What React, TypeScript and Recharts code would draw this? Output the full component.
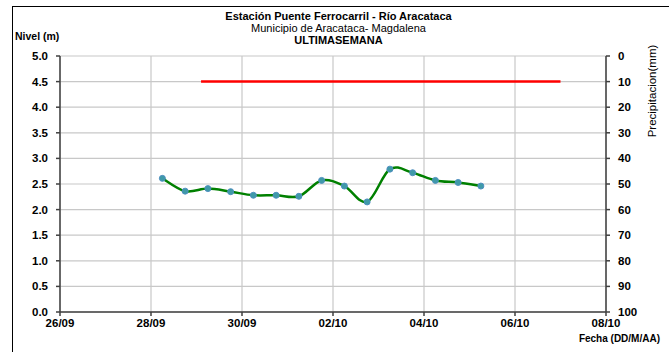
import { ComposedChart, Line, XAxis, YAxis, CartesianGrid } from 'recharts';

// days since 26/09 (readings every 12 h)
const nivelDias = [2.25, 2.75, 3.25, 3.75, 4.25, 4.75, 5.25, 5.75, 6.25, 6.75, 7.25, 7.75, 8.25, 8.75, 9.25];
const nivelM = [2.61, 2.36, 2.41, 2.35, 2.28, 2.28, 2.26, 2.57, 2.46, 2.15, 2.79, 2.72, 2.57, 2.53, 2.46];

// alert level line
const alertaDias = [3.1, 11];
const alertaM = [4.5, 4.5];

const fechaTicks = [0, 2, 4, 6, 8, 10, 12];
const fechaLabels = ['26/09', '28/09', '30/09', '02/10', '04/10', '06/10', '08/10'];
const nivelTicks = [0, 0.5, 1, 1.5, 2, 2.5, 3, 3.5, 4, 4.5, 5];
const precipTicks = [0, 10, 20, 30, 40, 50, 60, 70, 80, 90, 100];

const nivelData = nivelDias.map((d, i) => ({ dia: d, nivel: nivelM[i] }));
const alertaData = alertaDias.map((d, i) => ({ dia: d, alerta: alertaM[i] }));

// smoothing similar to Excel's (Catmull-Rom as cubic Bezier)
const smooth = (context: any) => {
  let pts: number[][] = [];
  return {
    areaStart() {},
    areaEnd() {},
    lineStart() {
      pts = [];
    },
    point(x: number, y: number) {
      pts.push([x, y]);
    },
    lineEnd() {
      if (!pts.length) return;
      context.moveTo(pts[0][0], pts[0][1]);
      for (let i = 0; i < pts.length - 1; i++) {
        const p0 = pts[i - 1] || pts[i];
        const p1 = pts[i];
        const p2 = pts[i + 1];
        const p3 = pts[i + 2] || p2;
        context.bezierCurveTo(
          p1[0] + (p2[0] - p0[0]) / 6, p1[1] + (p2[1] - p0[1]) / 6,
          p2[0] - (p3[0] - p1[0]) / 6, p2[1] - (p3[1] - p1[1]) / 6,
          p2[0], p2[1]
        );
      }
    },
  };
};

const font = 'Liberation Sans, Arial, sans-serif';
const tickStyle = { fontFamily: font, fontSize: 11.5, fontWeight: 'bold', fill: '#000' };

function App() {
  return (
    <div style={{ position: 'absolute', left: 0, top: 0, width: 669, height: 352, background: '#fff', fontFamily: font, overflow: 'hidden' }}>
      <div style={{ position: 'absolute', left: 12, top: 6, width: 700, height: 400, borderLeft: '1.5px solid #000', borderTop: '1.5px solid #000' }} />
      <div style={{ position: 'absolute', left: 0, width: 669, top: 10, textAlign: 'center', paddingLeft: 4, fontSize: 11, lineHeight: '12px', color: '#000' }}>
        <div style={{ fontWeight: 'bold' }}>Estación Puente Ferrocarril - Río Aracataca</div>
        <div>Municipio de Aracataca- Magdalena</div>
        <div style={{ fontWeight: 'bold' }}>ULTIMASEMANA</div>
      </div>
      <div style={{ position: 'absolute', left: 15, top: 30, fontSize: 10.5, fontWeight: 'bold' }}>Nivel (m)</div>
      <div style={{ position: 'absolute', right: 9, top: 333, fontSize: 10, fontWeight: 'bold' }}>Fecha (DD/M/AA)</div>
      <div style={{ position: 'absolute', left: 652, top: 91, width: 0, height: 0 }}>
        <div style={{ position: 'absolute', left: 0, top: 0, fontSize: 11.5, whiteSpace: 'nowrap', transform: 'translate(-50%, -50%) rotate(-90deg)' }}>
          Precipitacion(mm)
        </div>
      </div>
      <ComposedChart width={669} height={352} margin={{ top: 56, right: 0, bottom: 0, left: 0 }} style={{ position: 'absolute', left: 0, top: 0 }}>
        <CartesianGrid yAxisId="nivel" stroke="#c8c8c8" strokeWidth={1.2} />
        <XAxis
          dataKey="dia"
          type="number"
          domain={[0, 12]}
          ticks={fechaTicks}
          tickFormatter={(v) => fechaLabels[fechaTicks.indexOf(v)]}
          allowDataOverflow
          height={40}
          tick={tickStyle}
          tickSize={4}
          tickMargin={3}
          stroke="#404040"
          strokeWidth={1.5}
          interval={0}
        />
        <YAxis
          yAxisId="nivel"
          domain={[0, 5]}
          ticks={nivelTicks}
          tickFormatter={(v) => v.toFixed(1)}
          width={60}
          tick={tickStyle}
          tickSize={4}
          tickMargin={8}
          stroke="#404040"
          strokeWidth={1.5}
          interval={0}
        />
        <YAxis
          yAxisId="precip"
          orientation="right"
          domain={[0, 100]}
          allowDataOverflow
          reversed
          ticks={precipTicks}
          width={63}
          tick={tickStyle}
          tickSize={4}
          tickMargin={8}
          stroke="#404040"
          strokeWidth={1.5}
          interval={0}
        />
        {/* no precipitation recorded this week: empty series on the right axis */}
        <Line
          yAxisId="precip"
          data={alertaData}
          dataKey="precip"
          stroke="#1f4e9a"
          dot={false}
          legendType="none"
          isAnimationActive={false}
        />
        <Line
          yAxisId="nivel"
          data={alertaData}
          dataKey="alerta"
          stroke="#ff0000"
          strokeWidth={2.5}
          dot={false}
          isAnimationActive={false}
        />
        <Line
          yAxisId="nivel"
          data={nivelData}
          dataKey="nivel"
          type={smooth as any}
          stroke="#008000"
          strokeWidth={2.5}
          dot={{ r: 3, fill: '#3f9aa8', stroke: '#4f8fc0', strokeWidth: 1 }}
          isAnimationActive={false}
        />
      </ComposedChart>
    </div>
  );
}

export default App;
